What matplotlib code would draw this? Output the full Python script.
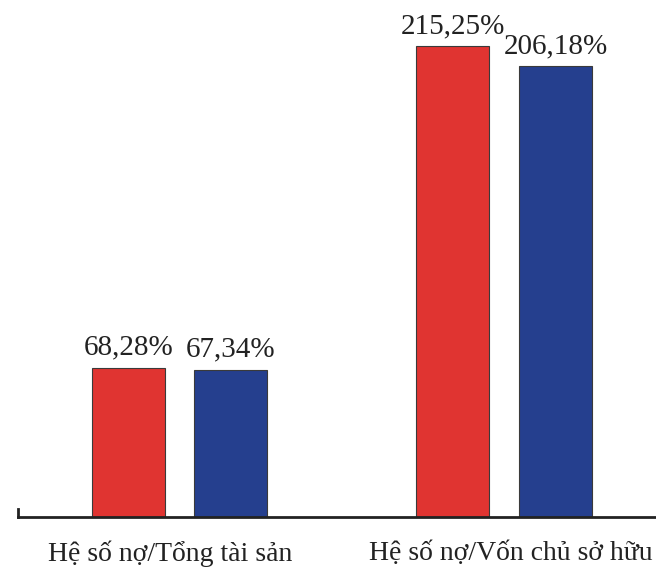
import matplotlib
matplotlib.use("Agg")
import matplotlib.pyplot as plt

categories = ["Hệ số nợ/Tổng tài sản", "Hệ số nợ/Vốn chủ sở hữu"]
series_a = [68.28, 215.25]
series_b = [67.34, 206.18]
colors = ["#E03431", "#253F8E"]

plt.rcParams["font.family"] = ["Liberation Serif", "DejaVu Serif"]

fig = plt.figure(figsize=(6.56, 5.69), dpi=100)
ax = fig.add_axes([18 / 656, 1 - 517 / 569, 1 - 18 / 656, 517 / 569])

x = [0, 1]
width = 0.225
offset = 0.158

def fmt(v):
    return f"{v:.2f}".replace(".", ",") + "%"

for vals, col, sign in [(series_a, colors[0], -1), (series_b, colors[1], 1)]:
    pos = [xi + sign * offset for xi in x]
    bars = ax.bar(pos, vals, width=width, color=col, edgecolor="#3a3a3a",
                  linewidth=0.8, zorder=2)
    for b, v in zip(bars, vals):
        ax.text(b.get_x() + b.get_width() / 2, v + 3.2, fmt(v),
                ha="center", va="bottom", fontsize=21, color="#222222")

ax.set_xlim(-0.498, 1.468)
ax.set_ylim(0, 236.3)

for s in ["top", "right"]:
    ax.spines[s].set_visible(False)
ax.spines["bottom"].set_linewidth(2)
ax.spines["bottom"].set_color("#222222")
ax.spines["left"].set_linewidth(2)
ax.spines["left"].set_color("#222222")
ax.spines["left"].set_bounds(0, 3.5)

ax.set_yticks([])
ax.set_xticks([x[0] - 0.03, x[1] + 0.02])
ax.set_xticklabels(categories, fontsize=20, color="#222222")
ax.tick_params(axis="x", length=0, pad=17)

fig.savefig("out.png", dpi=100)
